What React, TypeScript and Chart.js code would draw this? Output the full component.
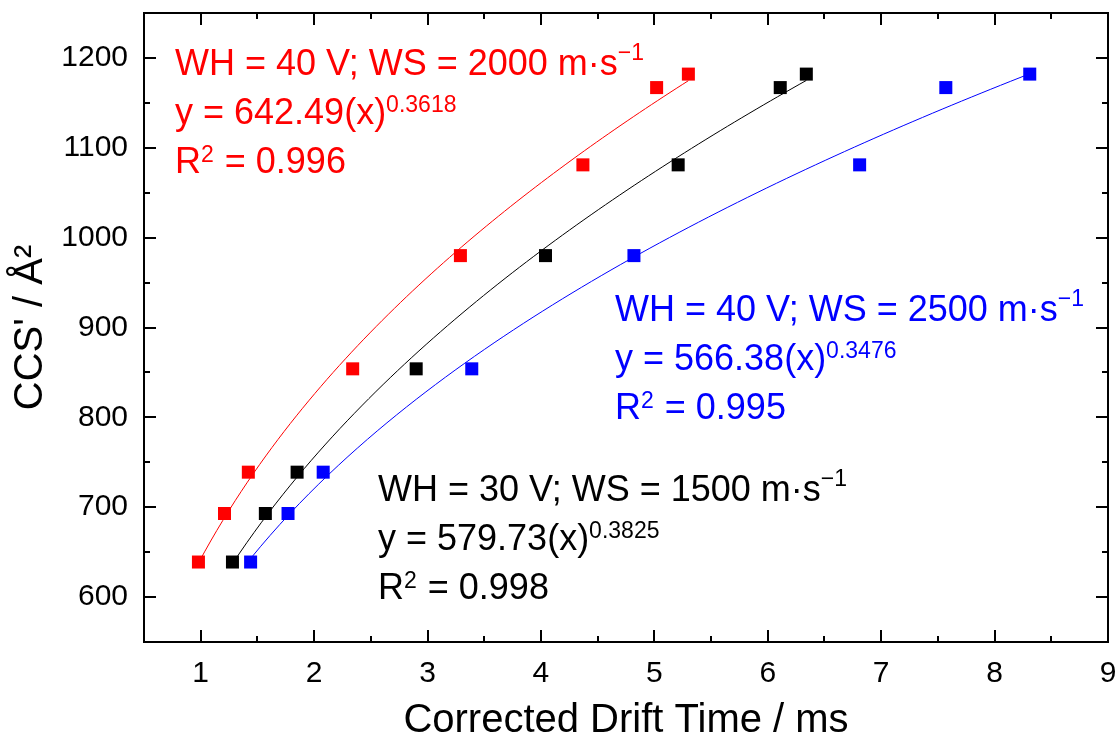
import React, { useEffect, useRef } from "react";
import { Chart, registerables } from "chart.js";

Chart.register(...registerables);

// ---- data ----
const CCS_VALUES = [639, 693, 739, 854, 980, 1081, 1167, 1182];
const DRIFT_RED = [0.98, 1.21, 1.42, 2.34, 3.29, 4.37, 5.02, 5.3];
const DRIFT_BLACK = [1.28, 1.57, 1.85, 2.9, 4.04, 5.21, 6.11, 6.34];
const DRIFT_BLUE = [1.44, 1.77, 2.08, 3.39, 4.82, 6.81, 7.57, 8.31];

// power-law fits printed on the chart: y = A * x^B  (red, black, blue)
const FIT_A = [642.49, 579.73, 566.38];
const FIT_B = [0.3618, 0.3825, 0.3476];

const SERIES_COLORS = ["#ff0000", "#000000", "#0000ff"];

const X_TICKS = [1, 2, 3, 4, 5, 6, 7, 8, 9];
const X_MINOR = [1.5, 2.5, 3.5, 4.5, 5.5, 6.5, 7.5, 8.5];
const Y_TICKS = [600, 700, 800, 900, 1000, 1100, 1200];
const Y_MINOR = [650, 750, 850, 950, 1050, 1150];

const X_TITLE = "Corrected Drift Time / ms";
const Y_TITLE = "CCS' / Å²";

const FONT = "'Liberation Sans', Arial, sans-serif";

type Part = { t: string; sup?: boolean };
type Note = { color: string; x: number; y: number; lines: Part[][]; raise: number[] };

const NOTES: Note[] = [
  {
    color: "#ff0000",
    x: 175,
    y: 75,
    raise: [15, 12, 11],
    lines: [
      [{ t: "WH = 40 V; WS = 2000 m·s" }, { t: "−1", sup: true }],
      [{ t: "y = 642.49(x)" }, { t: "0.3618", sup: true }],
      [{ t: "R" }, { t: "2", sup: true }, { t: " = 0.996" }],
    ],
  },
  {
    color: "#0000ff",
    x: 615,
    y: 321,
    raise: [15, 12, 11],
    lines: [
      [{ t: "WH = 40 V; WS = 2500 m·s" }, { t: "−1", sup: true }],
      [{ t: "y = 566.38(x)" }, { t: "0.3476", sup: true }],
      [{ t: "R" }, { t: "2", sup: true }, { t: " = 0.995" }],
    ],
  },
  {
    color: "#000000",
    x: 378,
    y: 501,
    raise: [15, 12, 11],
    lines: [
      [{ t: "WH = 30 V; WS = 1500 m·s" }, { t: "−1", sup: true }],
      [{ t: "y = 579.73(x)" }, { t: "0.3825", sup: true }],
      [{ t: "R" }, { t: "2", sup: true }, { t: " = 0.998" }],
    ],
  },
];

function fitCurve(xs: number[], a: number, b: number) {
  const lo = Math.min(...xs);
  const hi = Math.max(...xs);
  const pts: { x: number; y: number }[] = [];
  const n = 80;
  for (let i = 0; i <= n; i++) {
    const x = lo + ((hi - lo) * i) / n;
    pts.push({ x, y: a * Math.pow(x, b) });
  }
  return pts;
}

const framePlugin = {
  id: "frameTicks",
  afterDraw(chart: any) {
    const { ctx, chartArea: ca, scales } = chart;
    const xs = scales.x;
    const ys = scales.y;
    ctx.save();
    ctx.strokeStyle = "#000";
    ctx.lineWidth = 2;
    ctx.strokeRect(ca.left, ca.top, ca.right - ca.left, ca.bottom - ca.top);
    ctx.beginPath();
    const major = 12;
    const minor = 6;
    const xt = (v: number, len: number) => {
      const px = Math.round(xs.getPixelForValue(v));
      ctx.moveTo(px, ca.bottom);
      ctx.lineTo(px, ca.bottom - len);
      ctx.moveTo(px, ca.top);
      ctx.lineTo(px, ca.top + len);
    };
    const yt = (v: number, len: number) => {
      const py = Math.round(ys.getPixelForValue(v));
      ctx.moveTo(ca.left, py);
      ctx.lineTo(ca.left + len, py);
      ctx.moveTo(ca.right, py);
      ctx.lineTo(ca.right - len, py);
    };
    X_TICKS.forEach((v) => xt(v, major));
    X_MINOR.forEach((v) => xt(v, minor));
    Y_TICKS.forEach((v) => yt(v, major));
    Y_MINOR.forEach((v) => yt(v, minor));
    ctx.stroke();

    // annotations
    const mainSize = 36;
    const supSize = 23;
    const pitch = 49;
    ctx.textBaseline = "alphabetic";
    ctx.textAlign = "left";
    NOTES.forEach((note) => {
      ctx.fillStyle = note.color;
      note.lines.forEach((line, li) => {
        let cx = note.x;
        const by = note.y + li * pitch;
        line.forEach((p) => {
          ctx.font = `${p.sup ? supSize : mainSize}px ${FONT}`;
          ctx.fillText(p.t, cx, p.sup ? by - note.raise[li] : by);
          cx += ctx.measureText(p.t).width + (p.sup ? 1 : 0);
        });
      });
    });
    ctx.restore();
  },
};

export default function App() {
  const ref = useRef<HTMLCanvasElement | null>(null);

  useEffect(() => {
    if (!ref.current) return;
    const drifts = [DRIFT_RED, DRIFT_BLACK, DRIFT_BLUE];
    const pointSets = drifts.map((xs, i) => ({
      type: "scatter" as const,
      data: xs.map((x, j) => ({ x, y: CCS_VALUES[j] })),
      backgroundColor: SERIES_COLORS[i],
      borderColor: SERIES_COLORS[i],
      borderWidth: 0,
      pointStyle: "rect" as const,
      pointRadius: 9.2,
      showLine: false,
    }));
    const lineSets = drifts.map((xs, i) => ({
      type: "line" as const,
      data: fitCurve(xs, FIT_A[i], FIT_B[i]),
      borderColor: SERIES_COLORS[i],
      borderWidth: 1,
      pointRadius: 0,
      fill: false,
      tension: 0,
    }));

    const chart = new Chart(ref.current, {
      type: "scatter",
      data: { datasets: [...pointSets, ...lineSets] as any },
      plugins: [framePlugin],
      options: {
        responsive: false,
        animation: false,
        devicePixelRatio: 1,
        layout: { padding: { left: 0, top: 13, right: 11, bottom: 0 } },
        plugins: { legend: { display: false }, tooltip: { enabled: false } },
        scales: {
          x: {
            type: "linear",
            min: 0.5,
            max: 9,
            afterBuildTicks: (s: any) => {
              s.ticks = X_TICKS.map((value) => ({ value }));
            },
            afterFit: (s: any) => {
              s.height = 96;
              s.paddingLeft = 0;
              s.paddingRight = 0;
            },
            grid: { display: false, drawTicks: false },
            border: { display: false },
            ticks: {
              font: { size: 30, family: FONT },
              color: "#000",
              padding: 14,
              maxRotation: 0,
              autoSkip: false,
              callback: (v: any) => String(v),
            },
            title: {
              display: true,
              text: X_TITLE,
              color: "#000",
              font: { size: 40, family: FONT, lineHeight: 0.8 },
              padding: { top: 0, bottom: 1 },
            },
          },
          y: {
            type: "linear",
            min: 550,
            max: 1250,
            afterBuildTicks: (s: any) => {
              s.ticks = Y_TICKS.map((value) => ({ value }));
            },
            afterFit: (s: any) => {
              s.width = 144;
              s.paddingTop = 0;
              s.paddingBottom = 0;
            },
            grid: { display: false, drawTicks: false },
            border: { display: false },
            ticks: {
              font: { size: 30, family: FONT },
              color: "#000",
              padding: 16,
              autoSkip: false,
              callback: (v: any) => String(v),
            },
            title: {
              display: true,
              text: Y_TITLE,
              color: "#000",
              font: { size: 40, family: FONT, lineHeight: 0.8 },
              padding: { top: 15, bottom: 0 },
            },
          },
        },
      },
    });
    return () => chart.destroy();
  }, []);

  return (
    <div style={{ position: "fixed", left: 0, top: 0, width: 1119, height: 738, background: "#fff" }}>
      <canvas ref={ref} width={1119} height={738} style={{ display: "block" }} />
    </div>
  );
}
